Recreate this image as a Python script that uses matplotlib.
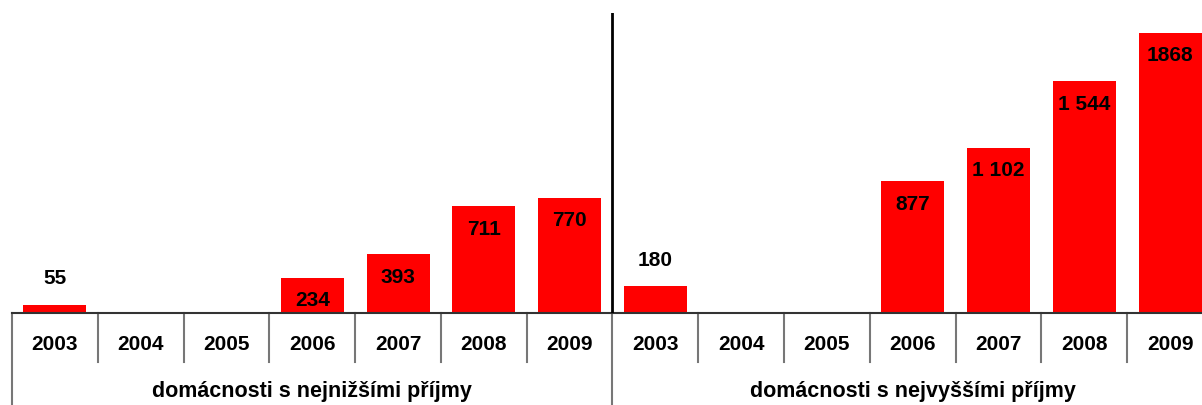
import matplotlib
matplotlib.use("Agg")
import matplotlib.pyplot as plt
import matplotlib.transforms as mtransforms

plt.rcParams['font.family'] = ['Liberation Sans', 'DejaVu Sans']

years = ["2003", "2004", "2005", "2006", "2007", "2008", "2009"]
groups = ["domácnosti s nejnižšími příjmy", "domácnosti s nejvyššími příjmy"]
low_income = [55, 0, 0, 234, 393, 711, 770]
high_income = [180, 0, 0, 877, 1102, 1544, 1868]
low_labels = ["55", "", "", "234", "393", "711", "770"]
high_labels = ["180", "", "", "877", "1 102", "1 544", "1868"]

values = low_income + high_income
labels = low_labels + high_labels
cats = years + years
n = len(values)
x = list(range(n))

W, H = 1202, 405
fig = plt.figure(figsize=(W / 100, H / 100), dpi=100)
left_px, right_px, base_px, top_px = 12, 1213, 313, 13
ax = fig.add_axes([left_px / W, (H - base_px) / H,
                   (right_px - left_px) / W, (base_px - top_px) / H])
ax.set_xlim(-0.5, n - 0.5)
ax.set_ylim(0, 2000)

ax.bar(x, values, width=0.735, color='#ff0000', zorder=2)

for s in ['top', 'right', 'left']:
    ax.spines[s].set_visible(False)
ax.spines['bottom'].set_color('#333333')
ax.spines['bottom'].set_linewidth(1.5)
ax.set_xticks([])
ax.set_yticks([])

for xi, v, lab in zip(x, values, labels):
    if not lab:
        continue
    if v < 200:
        off = 26
    else:
        off = -23
    ax.annotate(lab, (xi, v), xytext=(0, off), textcoords='offset pixels',
                ha='center', va='center', fontsize=15, fontweight='bold',
                color='black', zorder=3)

# group divider inside the plot
ax.axvline(6.5, color='black', linewidth=2, zorder=4)

trans = mtransforms.blended_transform_factory(ax.transData, ax.transAxes)
ax_h = base_px - top_px
def below(px):
    return -px / ax_h

# category separators
for b in range(n + 1):
    xb = b - 0.5
    if b in (0, 7, 14):
        ax.plot([xb, xb], [0, below(95)], transform=trans, color='#777777',
                linewidth=1.5, clip_on=False)
    else:
        ax.plot([xb, xb], [0, below(49)], transform=trans, color='#777777',
                linewidth=1.5, clip_on=False)

for xi, c in zip(x, cats):
    ax.text(xi, below(32), c, transform=trans, ha='center', va='center',
            fontsize=15, fontweight='bold')

for gi, g in enumerate(groups):
    ax.text(gi * 7 + 3, below(79), g, transform=trans, ha='center', va='center',
            fontsize=15.5, fontweight='bold')

fig.savefig("out.png", dpi=100)
